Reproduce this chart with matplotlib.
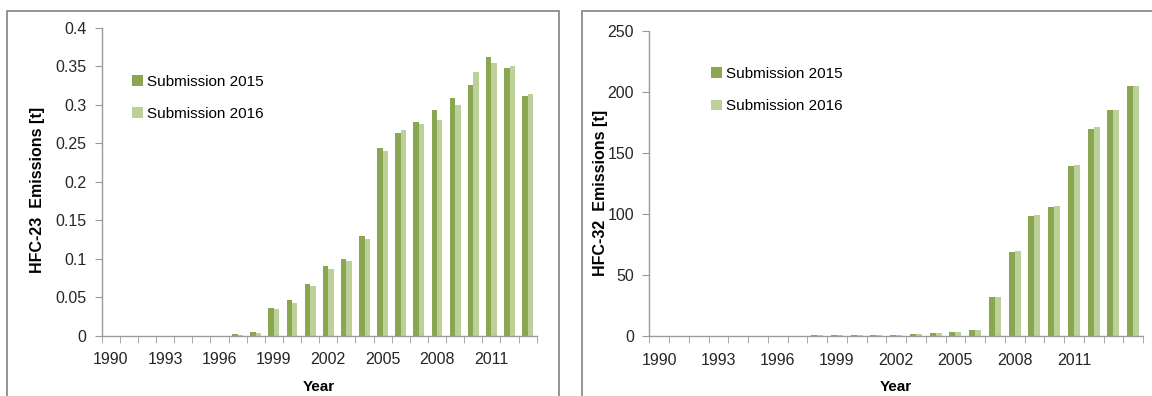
import numpy as np
import matplotlib
matplotlib.use("Agg")
import matplotlib.pyplot as plt
from matplotlib.patches import Rectangle

plt.rcParams["font.family"] = ["Liberation Sans", "DejaVu Sans"]
plt.rcParams["font.size"] = 11

# HFC-23 (1990-2013)
years_23 = list(range(1990, 2014))
hfc23_2015 = [0, 0, 0, 0, 0, 0, 0, 0.0026, 0.005, 0.036, 0.046, 0.067, 0.090, 0.100,
              0.129, 0.2435, 0.263, 0.2775, 0.293, 0.309, 0.326, 0.362, 0.348, 0.312]
hfc23_2016 = [0, 0, 0, 0, 0, 0, 0, 0.0013, 0.004, 0.035, 0.043, 0.064, 0.087, 0.097,
              0.126, 0.240, 0.267, 0.275, 0.280, 0.2995, 0.343, 0.354, 0.351, 0.314]

# HFC-32 (1990-2014)
years_32 = list(range(1990, 2015))
hfc32_2015 = [0, 0, 0, 0, 0, 0, 0, 0, 0.5, 0.5, 0.8, 0.8, 0.8, 1.6,
              2.4, 3.3, 4.6, 31.7, 68.9, 98.4, 106.0, 139.0, 169.7, 185.0, 204.6]
hfc32_2016 = [0, 0, 0, 0, 0, 0, 0, 0, 0.5, 0.5, 0.8, 0.8, 0.8, 1.6,
              2.4, 3.3, 4.6, 32.3, 69.7, 98.9, 106.8, 140.0, 171.0, 185.5, 205.3]

dark = "#8aa650"
light = "#bcd19a"
grey = "#9a9a9a"
W, H = 1152, 396

fig = plt.figure(figsize=(W / 100, H / 100), dpi=100)

# panel frames
fig.add_artist(Rectangle((7 / W, -0.05), (559 - 7) / W, 1.05 - 11 / H,
                         transform=fig.transFigure, fill=False,
                         edgecolor="#8c8c8c", linewidth=1.3))
fig.add_artist(Rectangle((581.5 / W, -0.05), 0.5, 1.05 - 11 / H,
                         transform=fig.transFigure, fill=False,
                         edgecolor="#8c8c8c", linewidth=1.3))


def draw(ax, years, s15, s16, ymax, ystep, ylabel, yl_xy, leg_pos):
    n = len(years)
    x = np.arange(n)
    w = 0.3
    ax.bar(x - w / 2, s15, w, color=dark, label="Submission 2015")
    ax.bar(x + w / 2, s16, w, color=light, label="Submission 2016")
    ax.set_xlim(-0.5, n - 0.5)
    ax.set_ylim(0, ymax)
    ax.set_yticks(np.arange(0, ymax + ystep / 2, ystep))
    ax.yaxis.set_major_formatter(matplotlib.ticker.FormatStrFormatter("%g"))
    lab = [i for i in range(n) if i % 3 == 0 and years[i] <= 2011]
    ax.set_xticks(lab)
    ax.set_xticklabels([str(years[i]) for i in lab])
    ax.set_xticks(np.arange(-0.5, n, 1), minor=True)
    ax.tick_params(axis="x", which="major", length=0, pad=12, colors="#262626",
                   labelsize=11.5)
    ax.tick_params(axis="x", which="minor", length=5, color=grey)
    ax.tick_params(axis="y", length=5, color=grey, colors="#262626", pad=6,
                   labelsize=11.5)
    for s in ["top", "right"]:
        ax.spines[s].set_visible(False)
    for s in ["left", "bottom"]:
        ax.spines[s].set_color(grey)
        ax.spines[s].set_linewidth(1.0)
    ax.set_ylabel(ylabel, fontweight="bold", fontsize=11.5)
    ax.yaxis.set_label_coords(*yl_xy)
    ax.set_xlabel("Year", fontweight="bold", labelpad=9)
    ax.legend(loc="upper left", bbox_to_anchor=leg_pos, frameon=False,
              handlelength=0.7, handleheight=0.7, handletextpad=0.3,
              labelspacing=1.2, borderpad=0, borderaxespad=0)


ax1 = fig.add_axes([101.7 / W, 1 - 335.7 / H, 435 / W, 307.7 / H])
draw(ax1, years_23, hfc23_2015, hfc23_2016, 0.4, 0.05, "HFC-23  Emissions [t]",
     (-0.13, 0.475), (0.07, 0.848))

ax2 = fig.add_axes([649.3 / W, 1 - 336 / H, 493.7 / W, 305 / H])
draw(ax2, years_32, hfc32_2015, hfc32_2016, 250, 50, "HFC-32  Emissions [t]",
     (-0.084, 0.47), (0.125, 0.882))

fig.savefig("out.png", dpi=100)
